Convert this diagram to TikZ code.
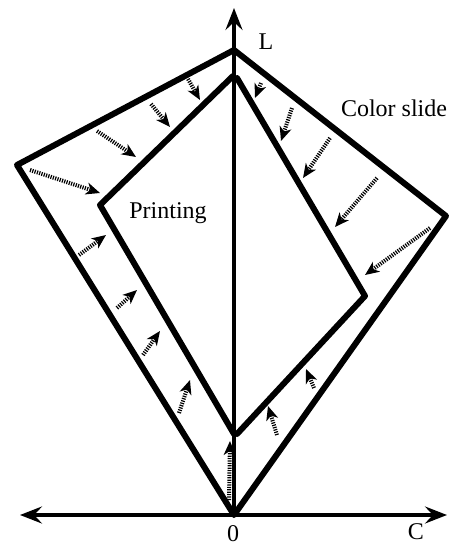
\documentclass[tikz,border=0pt]{standalone}
\usepackage{fontspec}
\setmainfont{Liberation Serif}
\usetikzlibrary{arrows.meta}
\begin{document}
\begin{tikzpicture}[x=1pt,y=-1pt,
  edge/.style={line width=6pt,line join=round,line cap=round},
  axis/.style={line width=4.5pt,-{Stealth[length=22pt,width=17pt,inset=8pt]}},
  flow/.style={line width=4pt,dash pattern=on 1.2pt off 1.2pt,
    -{Stealth[length=14pt,width=12pt,inset=4pt]}},
  lbl/.style={font=\fontsize{24}{28}\selectfont,inner sep=0pt}]
\useasboundingbox (0,0) rectangle (455,547);
% vertices
\coordinate (O) at (234,515);
\coordinate (Top) at (234,50);
\coordinate (Lout) at (17,165);
\coordinate (Rout) at (446,216);
\coordinate (LinT) at (233,76);
\coordinate (LinL) at (100,205);
\coordinate (LinB) at (234,434);
\coordinate (RinT) at (237,78);
\coordinate (RinR) at (365,296);
\coordinate (RinB) at (237,434);
\coordinate (Ytip) at (234,8);
\coordinate (Xl) at (20,515);
\coordinate (Xr) at (447,515);
% axes
\draw[axis] (O) -- (Ytip);
\draw[axis] (O) -- (Xl);
\draw[axis] (O) -- (Xr);
% polygons
\draw[edge] (O) -- (Lout) -- (Top) -- (Rout) -- cycle;
\draw[edge] (LinB) -- (LinL) -- (LinT);
\draw[edge] (RinT) -- (RinR) -- (RinB);
% flow arrows, printing
\foreach \a/\b in {{30,170}/{100,193},{97,131}/{136,157},{151,104}/{170,127},{188,79}/{200,100},
  {79,255}/{106,235},{117,308}/{137,290},{143,355}/{160,331},{179,413}/{190,380},{229,500}/{230,441}}
  \draw[flow] (\a) -- (\b);
% flow arrows, color slide
\foreach \a/\b in {{261,83}/{255,98},{292,108}/{281,141},{330,138}/{303,178},{377,178}/{335,227},
  {430,228}/{365,275},{277,435}/{268,406},{314,388}/{306,369}}
  \draw[flow] (\a) -- (\b);
% labels
\node[lbl] (L) at (266,42) {L};
\node[lbl] (cs) at (394,108) {Color slide};
\node[lbl] (pr) at (168,213) {Printing};
\node[lbl] (zero) at (233,534) {0};
\node[lbl] (C) at (416,532) {C};
\end{tikzpicture}
\end{document}
